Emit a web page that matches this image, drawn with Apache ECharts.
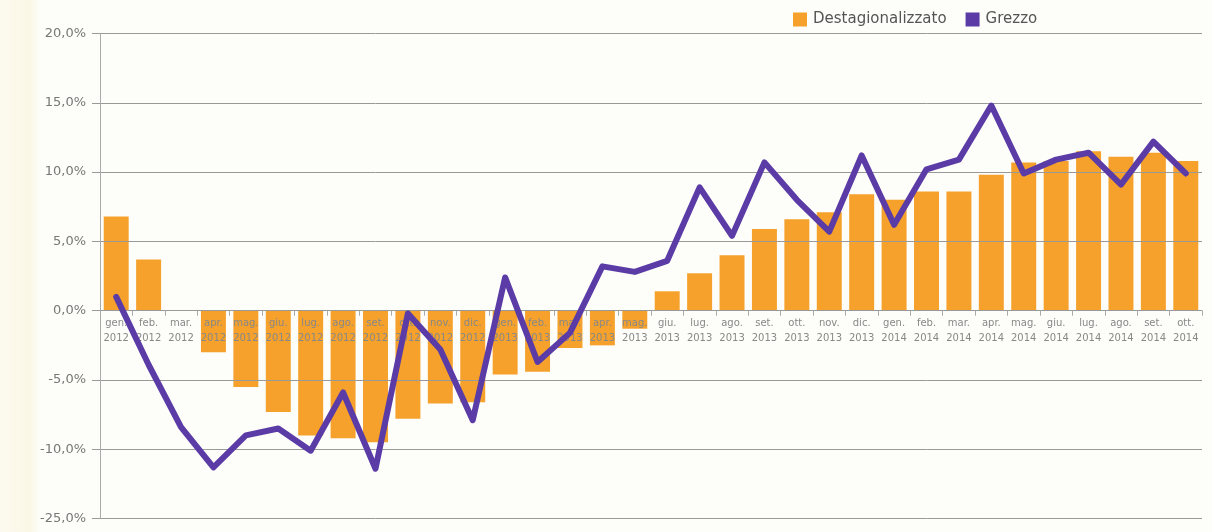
<!DOCTYPE html>
<html>
<head>
    <meta charset="utf-8">
    <title>Destagionalizzato / Grezzo</title>
    <script src="https://cdn.jsdelivr.net/npm/echarts@6/dist/echarts.min.js"></script>
    <style>
        html, body { margin: 0; padding: 0; background: #fdfdfa; }
        #main { width: 1212px; height: 532px; }
    </style>
</head>
<body>
<div id="main"></div>
<script type="text/javascript">
    // mesi (gen. 2012 - ott. 2014)
    var months = ['gen.', 'feb.', 'mar.', 'apr.', 'mag.', 'giu.', 'lug.', 'ago.', 'set.', 'ott.', 'nov.', 'dic.',
                  'gen.', 'feb.', 'mar.', 'apr.', 'mag.', 'giu.', 'lug.', 'ago.', 'set.', 'ott.', 'nov.', 'dic.',
                  'gen.', 'feb.', 'mar.', 'apr.', 'mag.', 'giu.', 'lug.', 'ago.', 'set.', 'ott.'];
    var years = ['2012', '2012', '2012', '2012', '2012', '2012', '2012', '2012', '2012', '2012', '2012', '2012',
                 '2013', '2013', '2013', '2013', '2013', '2013', '2013', '2013', '2013', '2013', '2013', '2013',
                 '2014', '2014', '2014', '2014', '2014', '2014', '2014', '2014', '2014', '2014'];

    var destagionalizzato = [6.8, 3.7, 0, -3.0, -5.5, -7.3, -9.0, -9.2, -9.5, -7.8, -6.7, -6.6,
                             -4.6, -4.4, -2.7, -2.5, -1.3, 1.4, 2.7, 4.0, 5.9, 6.6, 7.1, 8.4,
                             8.0, 8.6, 8.6, 9.8, 10.7, 10.8, 11.5, 11.1, 11.4, 10.8];
    var grezzo = [1.0, -3.9, -8.4, -11.3, -9.0, -8.5, -10.1, -5.9, -11.4, -0.2, -2.8, -7.9,
                  2.4, -3.7, -1.6, 3.2, 2.8, 3.6, 8.9, 5.4, 10.7, 8.0, 5.7, 11.2,
                  6.2, 10.2, 10.9, 14.8, 9.9, 10.9, 11.4, 9.1, 12.2, 9.9];

    // etichette asse y (l'ultima e' stampata cosi' nell'originale)
    var yTickValues = [-15, -10, -5, 0, 5, 10, 15, 20];
    var yTickLabels = ['-25,0%', '-10,0%', '-5,0%', '0,0%', '5,0%', '10,0%', '15,0%', '20,0%'];

    var categories = [];
    for (var i = 0; i < months.length; i++) {
        categories.push(months[i] + '\n' + years[i]);
    }

    var gridTop = 33.5, gridBottom = 13.4;
    var plotH = 532 - gridTop - gridBottom;
    // sposta l'asse delle categorie sulla linea dello 0
    var zeroOffset = -plotH * (0 - yTickValues[0]) / (yTickValues[yTickValues.length - 1] - yTickValues[0]);

    var myChart = echarts.init(document.getElementById('main'), null, {renderer: 'canvas'});

    var option = {
        backgroundColor: '#fdfdfa',
        animation: false,
        textStyle: { fontFamily: '"DejaVu Sans", sans-serif' },
        graphic: [{
            type: 'rect',
            left: 0, top: 0, z: -10,
            shape: { width: 40, height: 532 },
            style: {
                fill: new echarts.graphic.LinearGradient(0, 0, 1, 0, [
                    {offset: 0, color: '#fcfaef'},
                    {offset: 0.75, color: '#fbf7e6'},
                    {offset: 1, color: '#fdfdfa'}
                ])
            }
        }],
        legend: {
            left: 788,
            top: 7,
            icon: 'rect',
            itemWidth: 14,
            itemHeight: 14,
            itemGap: 19,
            textStyle: { color: '#555', fontSize: 15, padding: [0, 0, 0, 1] },
            data: ['Destagionalizzato', 'Grezzo']
        },
        grid: {
            left: 100,
            right: 10,
            top: gridTop,
            bottom: gridBottom,
            containLabel: false,
            outerBoundsMode: 'none'
        },
        xAxis: {
            type: 'category',
            data: categories,
            position: 'bottom',
            offset: zeroOffset,
            z: 2,
            axisLine: { onZero: false, lineStyle: { color: '#999', width: 1 } },
            axisTick: { show: true, length: 5, lineStyle: { color: '#aaa' } },
            axisLabel: {
                interval: 0,
                color: '#888',
                fontSize: 10,
                lineHeight: 15,
                margin: 5
            }
        },
        yAxis: {
            type: 'value',
            min: -15,
            max: 20,
            interval: 5,
            z: 2,
            axisLine: { show: true, lineStyle: { color: '#aaa' } },
            axisTick: { show: true, length: 8, lineStyle: { color: '#999' } },
            splitLine: { lineStyle: { color: '#999', width: 1 } },
            axisLabel: {
                color: '#777',
                fontSize: 13,
                margin: 14,
                formatter: function (v) {
                    var k = yTickValues.indexOf(v);
                    return k >= 0 ? yTickLabels[k] : '';
                }
            }
        },
        series: [
            {
                name: 'Destagionalizzato',
                type: 'bar',
                z: 1,
                barCategoryGap: '23%',
                itemStyle: { color: '#f5a12b' },
                data: destagionalizzato
            },
            {
                name: 'Grezzo',
                type: 'line',
                z: 3,
                symbol: 'none',
                itemStyle: { color: '#5b3ca6' },
                lineStyle: { color: '#5b3ca6', width: 6, join: 'round', cap: 'round' },
                data: grezzo
            }
        ]
    };

    myChart.setOption(option);
</script>
</body>
</html>
